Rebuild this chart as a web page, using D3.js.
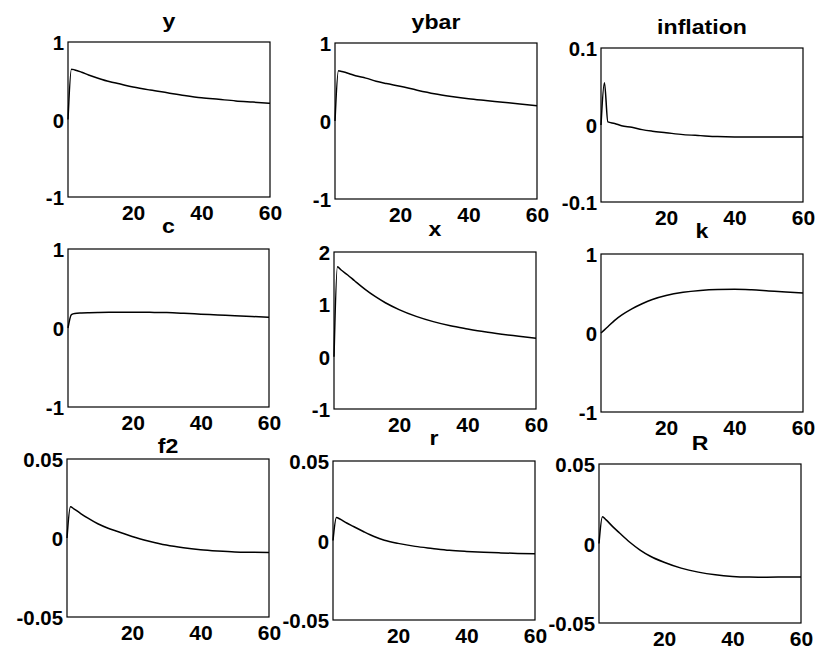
<!DOCTYPE html>
<html>
<head>
<meta charset="utf-8">
<script src="https://cdn.jsdelivr.net/npm/d3@7/dist/d3.min.js"></script>
<style>
  html, body { margin: 0; padding: 0; background: #fff; }
  svg { display: block; }
  text { font-family: "Liberation Sans", Arial, sans-serif; font-weight: bold; fill: #000; }
</style>
</head>
<body>
<svg id="chart" width="821" height="655"></svg>
<script>
// ---- data ----
const periods = [1, 2, 3, 5, 7, 10, 13, 16, 20, 25, 30, 35, 40, 45, 50, 55, 60];
const titles = ["y", "ybar", "inflation", "c", "x", "k", "f2", "r", "R"];
const ySeries  = [0, 0.65, 0.64, 0.61, 0.575, 0.53, 0.49, 0.46, 0.42, 0.38, 0.345, 0.31, 0.28, 0.26, 0.24, 0.225, 0.21];
const ybarSeries = [0, 0.645, 0.635, 0.61, 0.58, 0.55, 0.51, 0.48, 0.445, 0.395, 0.35, 0.315, 0.285, 0.262, 0.24, 0.218, 0.197];
const inflationSeries = [0, 0.055, 0.004, 0.002, -0.001, -0.003, -0.006, -0.008, -0.010, -0.0125, -0.0138, -0.015, -0.0155, -0.0156, -0.0156, -0.0156, -0.0156];
const cSeries  = [0, 0.17, 0.185, 0.19, 0.193, 0.196, 0.198, 0.2, 0.2, 0.198, 0.195, 0.186, 0.175, 0.165, 0.154, 0.145, 0.137];
const xSeries  = [0, 1.72, 1.66, 1.56, 1.45, 1.29, 1.15, 1.03, 0.9, 0.77, 0.67, 0.59, 0.53, 0.475, 0.43, 0.39, 0.35];
const kSeries  = [0, 0.04, 0.08, 0.16, 0.225, 0.305, 0.37, 0.425, 0.475, 0.515, 0.538, 0.55, 0.553, 0.546, 0.533, 0.52, 0.505];
const f2Series = [0, 0.0198, 0.0185, 0.0155, 0.0127, 0.009, 0.0062, 0.004, 0.001, -0.002, -0.0045, -0.0062, -0.0074, -0.0082, -0.0088, -0.009, -0.0091];
const rSeries  = [0, 0.0144, 0.0135, 0.011, 0.0088, 0.0055, 0.0025, 0.0002, -0.0018, -0.0037, -0.005, -0.0062, -0.0069, -0.0074, -0.0078, -0.0081, -0.0083];
const RSeries  = [0, 0.0168, 0.015, 0.0106, 0.0066, 0.0008, -0.0041, -0.008, -0.0118, -0.0155, -0.018, -0.0197, -0.0207, -0.0211, -0.0212, -0.0211, -0.021];
const seriesList = [ySeries, ybarSeries, inflationSeries, cSeries, xSeries, kSeries, f2Series, rSeries, RSeries];
const xTicks = [20, 40, 60];
const yTickSets = [
  [-1, 0, 1], [-1, 0, 1], [-0.1, 0, 0.1],
  [-1, 0, 1], [-1, 0, 1, 2], [-1, 0, 1],
  [-0.05, 0, 0.05], [-0.05, 0, 0.05], [-0.05, 0, 0.05]
];
const yDomains = [
  [-1, 1], [-1, 1], [-0.1, 0.1],
  [-1, 1], [-1, 2], [-1, 1],
  [-0.05, 0.05], [-0.05, 0.05], [-0.05, 0.05]
];

// ---- layout ----
const boxes = [
  [68, 42, 270, 197], [335, 43, 537, 199], [601, 48, 803, 202],
  [68, 249, 269, 407], [334, 252, 536, 409], [601, 254, 803, 412],
  [67, 459, 269, 617], [333, 461, 535, 620], [599, 464, 801, 623]
];
const titleDy = [-14, -14, -14, -16, -16, -16, -6, -16, -14];

const svg = d3.select("#chart");
const fmt = v => (v < 0 ? "-" : "") + String(Math.abs(v));
const tickFont = "20px";

titles.forEach((title, i) => {
  const [l, t, r, b] = boxes[i];
  const x = d3.scaleLinear().domain([1, 60]).range([l, r]);
  const y = d3.scaleLinear().domain(yDomains[i]).range([b, t]);
  const g = svg.append("g");

  const xAxis = d3.axisBottom(x).tickValues(xTicks).tickSize(0).tickPadding(0).tickFormat(d3.format("d"));
  const ax = g.append("g").attr("transform", `translate(0,${b})`).call(xAxis);
  ax.select(".domain").remove();
  ax.selectAll("text")
    .attr("y", null).attr("dy", null)
    .attr("transform", "translate(0,23) scale(1.05,1.05)")
    .style("font-size", tickFont).style("font-family", "'Liberation Sans', Arial, sans-serif")
    .style("font-weight", "bold").attr("fill", "#000");

  const yAxis = d3.axisLeft(y).tickValues(yTickSets[i]).tickSize(0).tickPadding(0).tickFormat(fmt);
  const ay = g.append("g").attr("transform", `translate(${l},0)`).call(yAxis);
  ay.select(".domain").remove();
  ay.selectAll("text")
    .attr("x", null).attr("dy", null)
    .attr("dominant-baseline", "central")
    .attr("transform", "translate(-4,0) scale(1.02,1.05)")
    .style("font-size", tickFont).style("font-family", "'Liberation Sans', Arial, sans-serif")
    .style("font-weight", "bold").attr("fill", "#000");

  g.append("rect")
    .attr("x", l).attr("y", t).attr("width", r - l).attr("height", b - t)
    .attr("fill", "none").attr("stroke", "#000").attr("stroke-width", 1.2);

  const line = d3.line()
    .x((d, j) => x(periods[j]))
    .y(d => y(d))
    .curve(d3.curveMonotoneX);
  g.append("path")
    .datum(seriesList[i])
    .attr("d", line)
    .attr("fill", "none").attr("stroke", "#000").attr("stroke-width", 1.5);

  g.append("text")
    .attr("transform", `translate(${(l + r) / 2},${t + titleDy[i]}) scale(1.1,1)`)
    .attr("text-anchor", "middle")
    .style("font-size", "21px")
    .text(title);
});
</script>
</body>
</html>
